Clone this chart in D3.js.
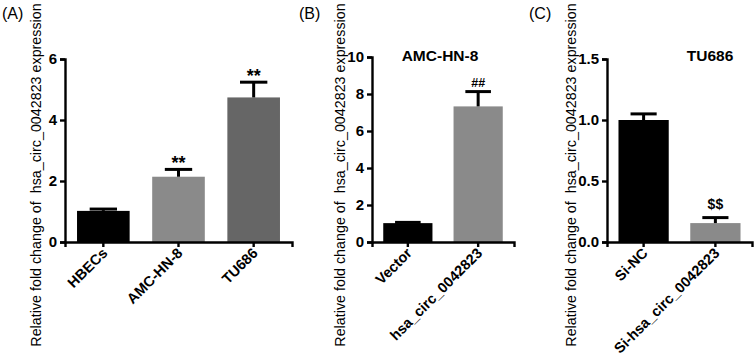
<!DOCTYPE html>
<html lang="en">
<head>
    <meta charset="UTF-8">
    <title>hsa_circ_0042823 expression</title>
    <script src="https://cdn.jsdelivr.net/npm/d3@7/dist/d3.min.js"></script>
    <style>
        body { margin: 0; background: #fff; }
        svg { font-family: Arial, "Liberation Sans", sans-serif; }
        .axis path,
        .axis line {
            fill: none;
            stroke: black;
            stroke-width: 2.4px;
        }
        .axis text {
            font-size: 15px;
            font-weight: bold;
            fill: black;
        }
    </style>
</head>
<body>
<script>
    // Panel A
    const groupsA = ['HBECs', 'AMC-HN-8', 'TU686'];
    const valuesA = [1.02, 2.14, 4.74];
    const errorsA = [0.06, 0.24, 0.50];
    const marksA = ['', '**', '**'];
    const ticksA = [0, 2, 4, 6];

    // Panel B
    const groupsB = ['Vector', 'hsa_circ_0042823'];
    const valuesB = [1.02, 7.33];
    const errorsB = [0.04, 0.80];
    const marksB = ['', '##'];
    const ticksB = [0, 2, 4, 6, 8, 10];

    // Panel C
    const groupsC = ['Si-NC', 'Si-hsa_circ_0042823'];
    const valuesC = [1.0, 0.155];
    const errorsC = [0.05, 0.045];
    const marksC = ['', '$$'];
    const ticksC = [0, 0.5, 1.0, 1.5];

    const w = 756, h = 355;
    const yLabel = 'Relative fold change of \u00a0hsa_circ_0042823 expression';

    const svg = d3.select('body')
        .append('svg')
        .attr('width', w)
        .attr('height', h);

    function drawPanel(p) {
        const g = svg.append('g');

        const x = d3.scaleBand()
            .domain(p.groups)
            .range([p.x0, p.x1])
            .paddingInner(0.3)
            .paddingOuter(0.16);

        const y = d3.scaleLinear()
            .domain([0, d3.max(p.ticks)])
            .range([242, p.yTop]);

        const rows = p.groups.map((k, i) => ({
            key: k, v: p.values[i], e: p.errors[i], m: p.marks[i], c: p.colors[i]
        }));

        // bars
        g.selectAll('rect.bar')
            .data(rows)
            .enter()
            .append('rect')
            .attr('class', 'bar')
            .attr('x', d => x(d.key))
            .attr('y', d => y(d.v))
            .attr('width', x.bandwidth())
            .attr('height', d => y(0) - y(d.v))
            .attr('fill', d => d.c);

        // upper error bars only
        const capW = x.bandwidth() * 0.52;
        g.selectAll('line.err')
            .data(rows)
            .enter()
            .append('line')
            .attr('x1', d => x(d.key) + x.bandwidth() / 2)
            .attr('x2', d => x(d.key) + x.bandwidth() / 2)
            .attr('y1', d => y(d.v))
            .attr('y2', d => y(d.v + d.e))
            .attr('stroke', 'black')
            .attr('stroke-width', 3);
        g.selectAll('line.cap')
            .data(rows)
            .enter()
            .append('line')
            .attr('x1', d => x(d.key) + x.bandwidth() / 2 - capW / 2)
            .attr('x2', d => x(d.key) + x.bandwidth() / 2 + capW / 2)
            .attr('y1', d => y(d.v + d.e))
            .attr('y2', d => y(d.v + d.e))
            .attr('stroke', 'black')
            .attr('stroke-width', 3);

        // significance marks
        g.selectAll('text.mark')
            .data(rows.filter(d => d.m))
            .enter()
            .append('text')
            .attr('x', d => x(d.key) + x.bandwidth() / 2)
            .attr('y', d => y(d.v + d.e) - p.markGap)
            .attr('text-anchor', 'middle')
            .attr('font-size', p.markSize)
            .attr('font-weight', 'bold')
            .text(d => d.m);

        // axes
        const yAxis = d3.axisLeft(y)
            .tickValues(p.ticks)
            .tickFormat(p.fmt)
            .tickSizeOuter(0)
            .tickSize(5)
            .tickPadding(3);
        g.append('g')
            .attr('class', 'axis')
            .attr('transform', 'translate(' + p.x0 + ',0)')
            .call(yAxis);

        const xAxis = d3.axisBottom(x)
            .tickSizeOuter(0)
            .tickSize(5)
            .tickFormat('');
        g.append('g')
            .attr('class', 'axis')
            .attr('transform', 'translate(0,242)')
            .call(xAxis);

        // rotated category labels
        g.selectAll('text.cat')
            .data(rows)
            .enter()
            .append('text')
            .attr('transform', d => 'translate(' + (x(d.key) + x.bandwidth() / 2 + 5) + ',254) rotate(-45)')
            .attr('text-anchor', 'end')
            .attr('font-size', 14.5)
            .attr('font-weight', 'bold')
            .text(d => d.key);

        // y label
        g.append('text')
            .attr('transform', 'translate(' + p.labelX + ',175) rotate(-90)')
            .attr('text-anchor', 'middle')
            .attr('font-size', 14.3)
            .text(yLabel);

        // panel letter
        g.append('text')
            .attr('x', p.letterX)
            .attr('y', 19)
            .attr('font-size', 16)
            .text(p.letter);

        if (p.title) {
            g.append('text')
                .attr('x', p.titleX)
                .attr('y', 61)
                .attr('text-anchor', 'middle')
                .attr('font-size', 15.5)
                .attr('font-weight', 'bold')
                .text(p.title);
        }
    }

    drawPanel({
        groups: groupsA, values: valuesA, errors: errorsA, marks: marksA, ticks: ticksA,
        colors: ['#000000', '#8a8a8a', '#666666'],
        x0: 65, x1: 292, yTop: 59, fmt: d3.format('d'),
        labelX: 41, letter: '(A)', letterX: 2,
        markGap: 0, markSize: 18
    });

    drawPanel({
        groups: groupsB, values: valuesB, errors: errorsB, marks: marksB, ticks: ticksB,
        colors: ['#000000', '#8a8a8a'],
        x0: 372, x1: 514, yTop: 57, fmt: d3.format('d'),
        labelX: 345, letter: '(B)', letterX: 299,
        title: 'AMC-HN-8', titleX: 440,
        markGap: 5, markSize: 12.5
    });

    drawPanel({
        groups: groupsC, values: valuesC, errors: errorsC, marks: marksC, ticks: ticksC,
        colors: ['#000000', '#8a8a8a'],
        x0: 607, x1: 752, yTop: 59, fmt: d3.format('.1f'),
        labelX: 576, letter: '(C)', letterX: 529,
        title: 'TU686', titleX: 710,
        markGap: 9, markSize: 14
    });
</script>
</body>
</html>
